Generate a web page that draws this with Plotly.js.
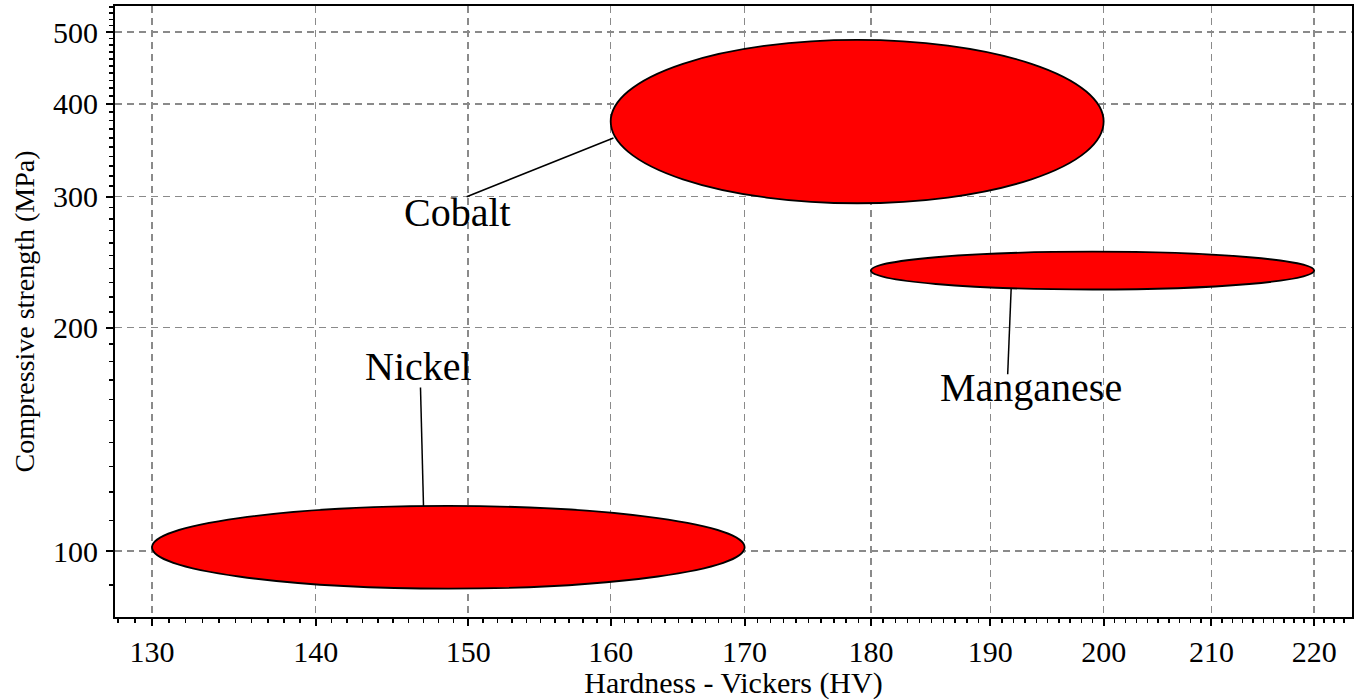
<!DOCTYPE html>
<html>
<head>
<meta charset="utf-8">
<script src="https://cdn.plot.ly/plotly-3.0.1.min.js"></script>
<style>
  html, body { margin: 0; padding: 0; background: #ffffff; }
  #chart { width: 1359px; height: 700px; }
</style>
</head>
<body>
<div id="chart"></div>
<script>
// ---- data ----
const materials = ['Nickel', 'Cobalt', 'Manganese'];
const hardnessMin = [130, 160, 180];      // HV
const hardnessMax = [170, 200, 220];      // HV
const strengthMin = [89, 294, 225];       // MPa
const strengthMax = [115, 488, 253];      // MPa

// label anchor points (data units) and leader line ends
const labelX = [146.7, 149.3, 193.5];
const labelY = [177, 286, 166.3];
const leaderFromX = [147, 160.2, 191.8];
const leaderFromY = [115, 360, 225.5];
const leaderToX = [146.8, 149.9, 191.5];
const leaderToY = [166, 300, 173];

const xTicks = [130, 140, 150, 160, 170, 180, 190, 200, 210, 220];
const yTicks = [100, 200, 300, 400, 500];
const xMinorTicks = [];
for (let v = 128; v <= 223; v++) xMinorTicks.push(v);
const yMinorTicks = [];
for (let v = 90; v <= 540; v += 10) yMinorTicks.push(v);

const xRange = [127.84, 223.8];
const yRange = [81.5, 542];

// ---- build ----
const FONT = 'Liberation Serif, Times New Roman, serif';
const shapes = [];
const annotations = [];

materials.forEach((m, i) => {
  shapes.push({
    type: 'circle', xref: 'x', yref: 'y',
    x0: hardnessMin[i], x1: hardnessMax[i],
    y0: strengthMin[i], y1: strengthMax[i],
    fillcolor: '#ff0000',
    line: { color: '#000000', width: 1.8 },
    layer: 'above'
  });
  shapes.push({
    type: 'line', xref: 'x', yref: 'y',
    x0: leaderFromX[i], y0: leaderFromY[i],
    x1: leaderToX[i], y1: leaderToY[i],
    line: { color: '#000000', width: 1.5 },
    layer: 'above'
  });
  annotations.push({
    xref: 'x', yref: 'y',
    x: Math.log10(labelX[i]), y: Math.log10(labelY[i]),
    text: m, showarrow: false,
    xanchor: 'center', yanchor: 'middle',
    font: { family: FONT, size: 40, color: '#000000' }
  });
});

const traces = [{
  type: 'scatter', mode: 'markers',
  x: hardnessMin.map((v, i) => Math.sqrt(v * hardnessMax[i])),
  y: strengthMin.map((v, i) => Math.sqrt(v * strengthMax[i])),
  text: materials,
  marker: { size: 1, color: 'rgba(0,0,0,0)' },
  hoverinfo: 'text',
  showlegend: false
}];

const axisCommon = {
  type: 'log',
  showline: true, linecolor: '#000000', linewidth: 2, mirror: true,
  ticks: 'outside', ticklen: 7, tickwidth: 2, tickcolor: '#000000',
  showgrid: true, gridcolor: '#8a8a8a', gridwidth: 1.5, griddash: '7px,5px',
  zeroline: false,
  tickfont: { family: FONT, size: 30, color: '#000000' },
  tickmode: 'array'
};

const layout = {
  width: 1359, height: 700,
  margin: { l: 115, r: 7, t: 6, b: 83 },
  paper_bgcolor: '#ffffff', plot_bgcolor: '#ffffff',
  showlegend: false,
  xaxis: Object.assign({}, axisCommon, {
    range: xRange.map(Math.log10),
    tickvals: xTicks, ticktext: xTicks.map(String),
    minor: { tickmode: 'array', tickvals: xMinorTicks, ticks: 'outside', ticklen: 4, tickwidth: 1.5, tickcolor: '#000000', showgrid: false },
    title: { text: 'Hardness - Vickers (HV)', font: { family: FONT, size: 30, color: '#000000' }, standoff: 8 }
  }),
  yaxis: Object.assign({}, axisCommon, {
    range: yRange.map(Math.log10),
    tickvals: yTicks, ticktext: yTicks.map(String),
    ticklabelstandoff: 2,
    minor: { tickmode: 'array', tickvals: yMinorTicks, ticks: 'outside', ticklen: 4, tickwidth: 1.5, tickcolor: '#000000', showgrid: false },
    title: { text: 'Compressive strength (MPa)', font: { family: FONT, size: 28, color: '#000000' }, standoff: 10 }
  }),
  shapes: shapes,
  annotations: annotations
};

Plotly.newPlot('chart', traces, layout, { displayModeBar: false, staticPlot: true });
</script>
</body>
</html>
